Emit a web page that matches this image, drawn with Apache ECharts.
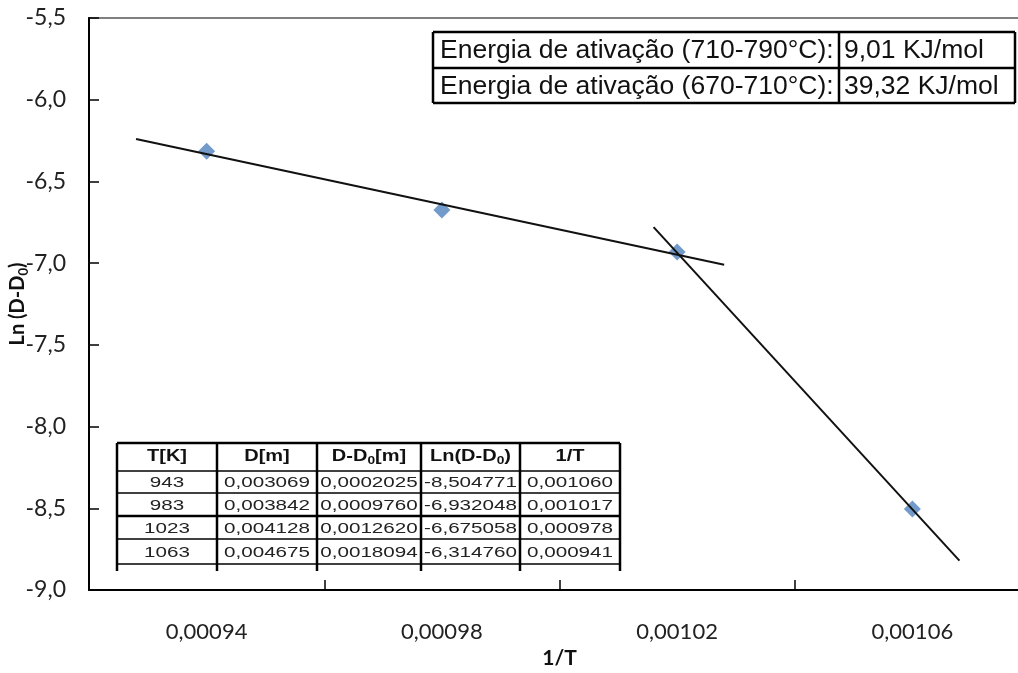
<!DOCTYPE html>
<html><head><meta charset="utf-8">
<script src="https://cdn.jsdelivr.net/npm/echarts@6/dist/echarts.min.js"></script>
<style>html,body{margin:0;padding:0;background:#fff}#c{width:1018px;height:673px}</style>
</head><body><div id="c"></div>
<script>
// ---- data (table rows) ----
const tempK    = [943, 983, 1023, 1063];
const diamM    = [0.003069, 0.003842, 0.004128, 0.004675];
const dMinusD0 = [0.0002025, 0.0009760, 0.0012620, 0.0018094];
const lnD      = [-8.504771, -6.932048, -6.675058, -6.314760];
const invT     = [0.001060, 0.001017, 0.000978, 0.000941];

// energy box
const energyLabels = ['Energia de ativação (710-790°C):', 'Energia de ativação (670-710°C):'];
const energyValues = ['9,01 KJ/mol', '39,32 KJ/mol'];

// trend lines (x in category-index units, y in Ln units)
const trendA = [[-0.3, -6.24], [2.2, -7.01]];
const trendB = [[1.9, -6.78], [3.2, -8.82]];

const yTicks = {min: -9, max: -5.5, interval: 0.5};

const fmt = (v, d) => v.toFixed(d).replace('.', ',');

// chart order: ascending 1/T
const order = invT.map((v, i) => i).sort((a, b) => invT[a] - invT[b]);
const xCategories = order.map(i => fmt(invT[i], 5));
const points = order.map((i, k) => [k, lnD[i]]);

// ---- table graphics ----
const graphics = [];
const colX = [117, 217, 317, 421, 520, 620];
const rowY = [443, 471, 493, 516, 539, 564];
const tblBottom = 571;
colX.forEach(x => graphics.push({type: 'line', shape: {x1: x, y1: rowY[0], x2: x, y2: tblBottom},
  style: {stroke: '#000', lineWidth: 2.5}, silent: true}));
rowY.forEach((y, r) => graphics.push({type: 'line', shape: {x1: colX[0], y1: y, x2: colX[colX.length - 1], y2: y},
  style: {stroke: '#000', lineWidth: (r === 0 || r === 3) ? 2.5 : 1.5}, silent: true}));
const headers = ['{b|T[K]}', '{b|D[m]}', '{b|D-D}{bs|0}{b|[m]}', '{b|Ln(D-D}{bs|0}{b|)}', '{b|1/T}'];
const rich = {
  b: {fontFamily: 'Liberation Sans', fontWeight: 'bold', fontSize: 16, lineHeight: 19, fill: '#111'},
  bs: {fontFamily: 'Liberation Sans', fontWeight: 'bold', fontSize: 11, lineHeight: 11, verticalAlign: 'bottom', fill: '#111'}
};
headers.forEach((h, c) => graphics.push({type: 'text', x: (colX[c] + colX[c + 1]) / 2, y: (rowY[0] + rowY[1]) / 2,
  scaleX: 1.25, silent: true,
  style: {text: h, rich: rich, align: 'center', verticalAlign: 'middle'}}));
const cols = [tempK.map(String), diamM.map(v => fmt(v, 6)), dMinusD0.map(v => fmt(v, 7)), lnD.map(v => fmt(v, 6)), invT.map(v => fmt(v, 6))];
cols.forEach((col, c) => col.forEach((txt, r) => graphics.push({type: 'text',
  x: (colX[c] + colX[c + 1]) / 2, y: (rowY[r + 1] + rowY[r + 2]) / 2 + 1, scaleX: 1.33, silent: true,
  style: {text: txt, fontFamily: 'Liberation Sans', fontSize: 15.5, fill: '#222', align: 'center', verticalAlign: 'middle'}})));

// energy box
const eX = [433, 839, 1015];
const eY = [32, 68, 103];
eX.forEach(x => graphics.push({type: 'line', shape: {x1: x, y1: eY[0], x2: x, y2: eY[2]}, style: {stroke: '#000', lineWidth: 2.5}, silent: true}));
eY.forEach(y => graphics.push({type: 'line', shape: {x1: eX[0], y1: y, x2: eX[2], y2: y}, style: {stroke: '#000', lineWidth: 2.5}, silent: true}));
energyLabels.forEach((t, r) => {
  graphics.push({type: 'text', x: eX[0] + 7, y: (eY[r] + eY[r + 1]) / 2 + 1, silent: true,
    style: {text: t, fontFamily: 'Liberation Sans', fontSize: 26.5, fill: '#111', align: 'left', verticalAlign: 'middle'}});
  graphics.push({type: 'text', x: eX[1] + 5, y: (eY[r] + eY[r + 1]) / 2 + 1, silent: true,
    style: {text: energyValues[r], fontFamily: 'Liberation Sans', fontSize: 26.5, fill: '#111', align: 'left', verticalAlign: 'middle'}});
});

const chart = echarts.init(document.getElementById('c'), null, {renderer: 'canvas'});
chart.setOption({
  animation: false,
  backgroundColor: '#fff',
  grid: {left: 89, top: 18, width: 941, height: 572, show: true, borderColor: '#808080', borderWidth: 2,
         containLabel: false, outerBoundsMode: 'none'},
  xAxis: [{
    type: 'category', data: xCategories, boundaryGap: true, position: 'bottom',
    axisLine: {show: true, onZero: false, lineStyle: {color: '#000', width: 2}},
    axisTick: {show: true, inside: true, length: 10, lineStyle: {color: '#000', width: 1.5}},
    axisLabel: {margin: 31, fontFamily: 'Lato', fontSize: 22, color: '#222'},
    splitLine: {show: false},
    name: '1/T', nameLocation: 'middle', nameGap: 58, nameMoveOverlap: false,
    nameTextStyle: {fontFamily: 'Lato', fontWeight: 'bold', fontSize: 21, color: '#111'}
  }, {
    type: 'value', min: -0.5, max: 3.5, show: false, axisLine: {onZero: false}
  }],
  yAxis: {
    type: 'value', min: yTicks.min, max: yTicks.max, interval: yTicks.interval,
    axisLine: {show: true, onZero: false, lineStyle: {color: '#000', width: 2}},
    axisTick: {show: true, inside: true, length: 10, lineStyle: {color: '#000', width: 1.5}},
    axisLabel: {margin: 23, fontFamily: 'Lato', fontSize: 23, color: '#222', formatter: v => fmt(v, 1)},
    splitLine: {show: false},
    name: '{a|Ln (D-D}{s|0}{a|)}', nameLocation: 'middle', nameRotate: 90, nameGap: 59, nameMoveOverlap: false,
    nameTextStyle: {rich: {
      a: {fontFamily: 'Lato', fontWeight: 'bold', fontSize: 20, lineHeight: 24, color: '#111'},
      s: {fontFamily: 'Lato', fontWeight: 'bold', fontSize: 13, lineHeight: 13, verticalAlign: 'bottom', color: '#111'}
    }}
  },
  series: [
    {type: 'line', xAxisIndex: 1, data: trendA, showSymbol: false, symbol: 'none', silent: true,
     lineStyle: {color: '#111', width: 2}, z: 3},
    {type: 'line', xAxisIndex: 1, data: trendB, showSymbol: false, symbol: 'none', silent: true,
     lineStyle: {color: '#111', width: 2}, z: 3},
    {type: 'scatter', xAxisIndex: 0, data: points, symbol: 'diamond', symbolSize: [17, 17],
     itemStyle: {color: '#4F81BD'}, z: 2}
  ],
  graphic: graphics
});
</script></body></html>
